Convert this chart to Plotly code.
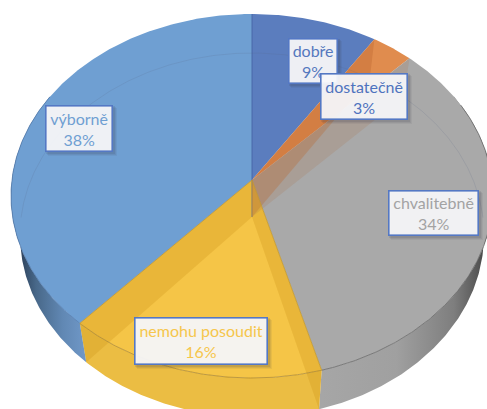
import numpy as np
import plotly.graph_objects as go

categories = ["dobře", "dostatečně", "chvalitebně", "nemohu posoudit", "výborně"]
values = [9.0, 3.0, 33.6, 16.4, 38.0]
face_colors = ["#5B7DBE", "#E08C4E", "#A9A9A9", "#F5C547", "#6F9FD2"]
text_colors = ["#5578BE", "#4F73BE", "#A3A3A3", "#F6C64C", "#6F9FD2"]
edge_tints = ["rgba(60,90,160,0.9)", "rgba(190,105,50,0.38)", "rgba(170,130,100,0.28)",
              "rgba(205,150,25,0.30)", "rgba(205,150,25,0.30)"]
# label boxes: left, top, right, bottom in px
label_boxes = [(288, 38, 338, 84), (320, 73, 408, 120), (388, 190, 479, 236),
               (134, 317, 268, 365), (45, 105, 113, 152)]

# projection of the disc
TOP = dict(cx=252, cy=196, rx=241, ry=182, ax=252, ay=180)
BOT = dict(cx=252, cy=235, rx=232, ry=182, ax=252, ay=217)


def rim(e, deg):
    d = np.asarray(deg, dtype=float)
    t = np.radians(d - 3.5 * np.sin(np.radians(d)))  # perspective foreshortening
    return e["cx"] + e["rx"] * np.sin(t), e["cy"] - e["ry"] * np.cos(t)


def arc(a, b):
    return np.linspace(a, b, max(int(abs(b - a)) * 2, 2))


edges = np.concatenate([[0], np.cumsum(values)]) * 360.0 / sum(values)
fig = go.Figure()


def poly(x, y, color=None, line=None, width=0, grad=None):
    kw = dict(x=list(x), y=list(y), mode="lines", fill="toself", hoverinfo="skip",
              showlegend=False, line=dict(width=width, color=line or "rgba(0,0,0,0)"))
    if grad:
        kw["fillgradient"] = grad
    else:
        kw["fillcolor"] = color
    fig.add_trace(go.Scatter(**kw))


def stroke(x, y, color, width=1):
    fig.add_trace(go.Scatter(x=list(x), y=list(y), mode="lines", hoverinfo="skip",
                             showlegend=False, line=dict(color=color, width=width)))


def wall(a, b, **kw):
    d = arc(a, b)
    xt, yt = rim(TOP, d)
    xb, yb = rim(BOT, d[::-1])
    poly(np.r_[xt, xb], np.r_[yt, yb], **kw)


# side walls
wall(60, edges[3], grad=dict(type="horizontal", start=322, stop=487,
     colorscale=[[0, "#A6A6A6"], [0.45, "#A0A0A0"], [0.8, "#7E7E7E"], [0.95, "#555555"], [1, "#3E3E3E"]]))
wall(edges[3], edges[4], color="#EBBD43")
wall(edges[4], 300, grad=dict(type="horizontal", start=16, stop=83,
     colorscale=[[0, "#263850"], [0.3, "#486889"], [0.7, "#6188B4"], [1, "#6E96C5"]]))

# top faces
for i in range(len(values)):
    x, y = rim(TOP, arc(edges[i], edges[i + 1]))
    poly(np.r_[TOP["ax"], x], np.r_[TOP["ay"], y], color=face_colors[i])

# inner walls seen through the translucent faces
for i in range(len(values)):
    xt, yt = rim(TOP, [edges[i]])
    xb, yb = rim(BOT, [edges[i]])
    qx = [TOP["ax"], xt[0], xb[0], BOT["ax"]]
    qy = [TOP["ay"], yt[0], yb[0], BOT["ay"]]
    if i == 0:
        stroke([qx[1], qx[3]], [qy[1], qy[3]], "rgba(70,100,165,0.75)", 1.2)
    else:
        poly(qx, qy, color=edge_tints[i])

# far edge of the base, seen through the faces
x, y = rim(BOT, arc(-88, 88))
stroke(x, y, "rgba(85,100,130,0.16)", 1)

# rims
x, y = rim(TOP, arc(edges[2] + 20, edges[3]))
stroke(x, y, "rgba(105,105,105,0.8)", 1)
x, y = rim(TOP, arc(edges[3], edges[4]))
stroke(x, y, "rgba(165,130,45,0.7)", 1)
x, y = rim(TOP, arc(edges[4], 300))
stroke(x, y, "rgba(85,125,175,0.8)", 1)
for k in (3, 4):
    x, y = rim(TOP, [edges[k]])
    stroke([TOP["ax"], x[0]], [TOP["ay"], y[0]], "rgba(190,150,50,0.8)", 1)

# labels
shapes, annotations = [], []
for name, val, col, (l, t, r, b) in zip(categories, values, text_colors, label_boxes):
    for off, alpha in ((4, 0.07), (3, 0.09), (2, 0.12)):
        shapes.append(dict(type="rect", x0=l + off - 1, x1=r + off, y0=t + off - 1, y1=b + off,
                           layer="above", fillcolor=f"rgba(60,60,70,{alpha})", line=dict(width=0)))
    annotations.append(dict(
        x=(l + r) / 2, y=(t + b) / 2, xref="x", yref="y", showarrow=False,
        text=f"{name}<br>{round(val)}%", width=r - l - 3, height=b - t - 3, align="center", valign="middle",
        font=dict(family="Lato", size=16, color=col),
        bgcolor="rgba(248,248,250,0.94)", bordercolor="#5478C4", borderwidth=1.6, borderpad=0))

fig.update_layout(
    width=487, height=409, margin=dict(l=0, r=0, t=0, b=0),
    paper_bgcolor="white", plot_bgcolor="white", showlegend=False,
    xaxis=dict(range=[0, 487], visible=False, fixedrange=True),
    yaxis=dict(range=[409, 0], visible=False, fixedrange=True),
    shapes=shapes, annotations=annotations,
)
fig.write_html("out.html", config=dict(displayModeBar=False),
               post_script="document.body.style.margin='0';")
